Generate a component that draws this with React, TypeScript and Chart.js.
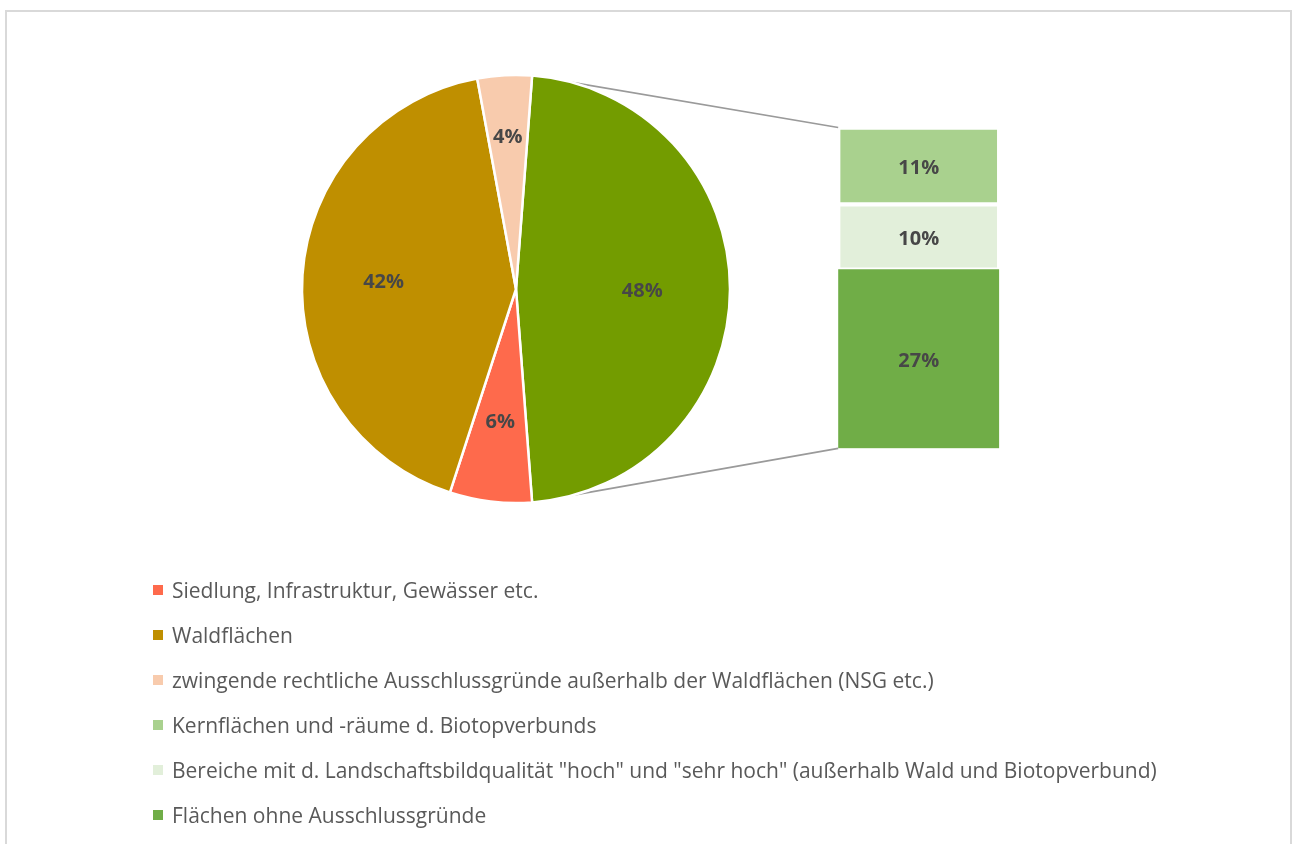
import React, { useEffect, useRef } from 'react';
import { Chart, registerables } from 'chart.js';

Chart.register(...registerables);

// ---- data ----
const pieCategories = [
  'Siedlung, Infrastruktur, Gewässer etc.',
  'Waldflächen',
  'zwingende rechtliche Ausschlussgründe außerhalb der Waldflächen (NSG etc.)',
];
const pieValues = [6.2, 42.1, 4.1];
const pieColors = ['#fe6a4c', '#bf8f00', '#f8cbad'];
const otherColor = '#739c00';

// stacked bar, bottom to top
const barCategories = [
  'Flächen ohne Ausschlussgründe',
  'Bereiche mit d. Landschaftsbildqualität "hoch" und "sehr hoch" (außerhalb Wald und Biotopverbund)',
  'Kernflächen und -räume d. Biotopverbunds',
];
const barValues = [26.5, 9.7, 11.4];
const barColors = ['#70ad47', '#e2efda', '#a9d18e'];
const barBorderWidths = [0, 2.5, 2.5];

// legend order (as in the reference)
const legendLabels = [pieCategories[0], pieCategories[1], pieCategories[2], barCategories[2], barCategories[1], barCategories[0]];
const legendColors = [pieColors[0], pieColors[1], pieColors[2], barColors[2], barColors[1], barColors[0]];

const labelFontFamily = "'Open Sans', sans-serif";
const labelFontSize = 20;
const labelColor = '#474747';
const legendColor = '#595959';

const W = 1295;

export default function App() {
  const barRef = useRef<HTMLCanvasElement>(null);
  const pieRef = useRef<HTMLCanvasElement>(null);
  const legendRef = useRef<HTMLDivElement>(null);

  useEffect(() => {
    const barTotal = barValues.reduce((a, b) => a + b, 0);

    const barLabelPlugin = {
      id: 'barLabels',
      afterDatasetsDraw(chart: any) {
        const ctx = chart.ctx;
        ctx.save();
        ctx.font = `bold ${labelFontSize}px ${labelFontFamily}`;
        ctx.fillStyle = labelColor;
        ctx.textAlign = 'center';
        ctx.textBaseline = 'middle';
        chart.data.datasets.forEach((ds: any, i: number) => {
          const el = chart.getDatasetMeta(i).data[0];
          const p = el.getProps(['x', 'y', 'base'], true);
          ctx.fillText(`${Math.round(ds.data[0])}%`, p.x, (p.y + p.base) / 2 + 2);
        });
        ctx.restore();
      },
    };

    // HTML legend (Chart.js "HTML legend" pattern) built from generateLabels
    const htmlLegendPlugin = {
      id: 'htmlLegend',
      afterUpdate(chart: any) {
        const container = legendRef.current;
        if (!container) return;
        while (container.firstChild) container.firstChild.remove();
        const items = chart.options.plugins.legend.labels.generateLabels(chart);
        const ul = document.createElement('ul');
        ul.style.listStyle = 'none';
        ul.style.margin = '0';
        ul.style.padding = '0';
        items.forEach((item: any) => {
          const li = document.createElement('li');
          li.style.display = 'flex';
          li.style.alignItems = 'center';
          li.style.height = '45px';
          li.style.whiteSpace = 'nowrap';
          const box = document.createElement('span');
          box.style.display = 'inline-block';
          box.style.width = '10px';
          box.style.height = '10px';
          box.style.background = item.fillStyle;
          box.style.marginRight = '9.5px';
          box.style.flexShrink = '0';
          const text = document.createElement('span');
          text.textContent = item.text;
          text.style.color = legendColor;
          text.style.font = "21px 'Open Sans', sans-serif";
          text.style.lineHeight = '21px';
          li.appendChild(box);
          li.appendChild(text);
          ul.appendChild(li);
        });
        container.appendChild(ul);
      },
    };

    const barChart = new Chart(barRef.current!, {
      type: 'bar',
      data: {
        labels: ['Sonstige'],
        datasets: barCategories.map((c, i) => ({
          label: c,
          data: [barValues[i]],
          backgroundColor: barColors[i],
          borderColor: '#ffffff',
          borderWidth: barBorderWidths[i],
          borderSkipped: false,
          barPercentage: 1,
          categoryPercentage: 1,
        })),
      },
      options: {
        responsive: false,
        animation: false,
        layout: { padding: { left: 838.2, right: W - 999.2, top: 127.5, bottom: 844 - 448.3 } },
        scales: {
          x: { stacked: true, display: false },
          y: { stacked: true, display: false, min: 0, max: barTotal },
        },
        plugins: {
          tooltip: { enabled: false },
          legend: {
            display: false,
            labels: {
              generateLabels: () =>
                legendLabels.map((t, i) => ({
                  text: t,
                  fillStyle: legendColors[i],
                  strokeStyle: legendColors[i],
                  lineWidth: 0,
                  hidden: false,
                })),
            },
          },
        },
      } as any,
      plugins: [barLabelPlugin, htmlLegendPlugin],
    });

    const pieFractions = [0.59, 0.62, 0.62, 0.72];

    const connectorPlugin = {
      id: 'connectors',
      beforeDatasetsDraw(chart: any) {
        const arc = chart.getDatasetMeta(0).data[0];
        const a = arc.getProps(['x', 'y', 'startAngle', 'endAngle', 'outerRadius'], true);
        const top = barChart.getDatasetMeta(barValues.length - 1).data[0] as any;
        const bot = barChart.getDatasetMeta(0).data[0] as any;
        const t = top.getProps(['x', 'y', 'width'], true);
        const b = bot.getProps(['x', 'base', 'width'], true);
        const ctx = chart.ctx;
        ctx.save();
        ctx.strokeStyle = '#9a9a9a';
        ctx.lineWidth = 1.75;
        ctx.beginPath();
        ctx.moveTo(a.x + a.outerRadius * Math.cos(a.startAngle), a.y + a.outerRadius * Math.sin(a.startAngle));
        ctx.lineTo(t.x - t.width / 2, t.y);
        ctx.moveTo(a.x + a.outerRadius * Math.cos(a.endAngle), a.y + a.outerRadius * Math.sin(a.endAngle));
        ctx.lineTo(b.x - b.width / 2, b.base);
        ctx.stroke();
        ctx.restore();
      },
      afterDatasetsDraw(chart: any) {
        const ctx = chart.ctx;
        const meta = chart.getDatasetMeta(0);
        const values = chart.data.datasets[0].data;
        ctx.save();
        ctx.font = `bold ${labelFontSize}px ${labelFontFamily}`;
        ctx.fillStyle = labelColor;
        ctx.textAlign = 'center';
        ctx.textBaseline = 'middle';
        meta.data.forEach((el: any, i: number) => {
          const p = el.getProps(['x', 'y', 'startAngle', 'endAngle', 'outerRadius'], true);
          const mid = (p.startAngle + p.endAngle) / 2;
          const r = p.outerRadius * pieFractions[i];
          ctx.fillText(`${Math.round(values[i])}%`, p.x + r * Math.cos(mid), p.y + r * Math.sin(mid) + 2);
        });
        ctx.restore();
      },
    };

    const pieData = [barTotal, ...pieValues];
    const pieChart = new Chart(pieRef.current!, {
      type: 'pie',
      data: {
        labels: ['Sonstige', ...pieCategories],
        datasets: [
          {
            data: pieData,
            backgroundColor: [otherColor, ...pieColors],
            borderColor: '#ffffff',
            borderWidth: 2.5,
          },
        ],
      },
      options: {
        responsive: false,
        animation: false,
        rotation: 90 - (barTotal / 100) * 180,
        radius: 214,
        layout: { padding: { left: 303, right: W - 729, top: 77, bottom: 600 - 501 } },
        plugins: { legend: { display: false }, tooltip: { enabled: false } },
      } as any,
      plugins: [connectorPlugin],
    });

    return () => {
      pieChart.destroy();
      barChart.destroy();
    };
  }, []);

  return (
    <div style={{ position: 'absolute', left: 0, top: 0, width: W, height: 844, overflow: 'hidden', background: '#ffffff' }}>
      <div
        style={{
          position: 'absolute', left: 5, top: 10, width: 1287, height: 1000,
          border: '2px solid #d9d9d9', boxSizing: 'border-box',
        }}
      />
      <canvas ref={barRef} width={W} height={844} style={{ position: 'absolute', left: 0, top: 0, width: W, height: 844 }} />
      <canvas ref={pieRef} width={W} height={600} style={{ position: 'absolute', left: 0, top: 0, width: W, height: 600 }} />
      <div ref={legendRef} style={{ position: 'absolute', left: 152.5, top: 567.5 }} />
    </div>
  );
}
